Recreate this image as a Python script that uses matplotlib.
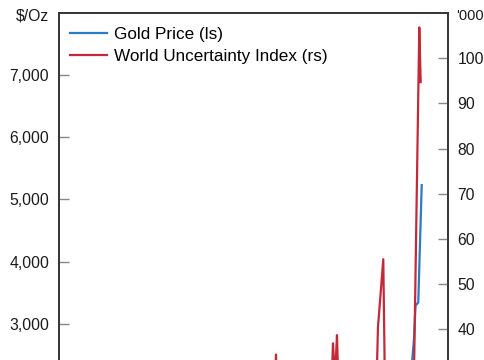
import matplotlib.pyplot as plt
from matplotlib.ticker import FuncFormatter

plt.rcParams['font.family'] = ['Liberation Sans', 'DejaVu Sans']

# Gold price, $/oz (left scale)
gold_year = [1973.0, 1980.0, 1985.0, 1990.0, 2000.0, 2005.0, 2008.0, 2011.7,
             2015.9, 2019.0, 2020.6, 2022.8, 2023.9, 2024.4, 2024.65, 2024.87,
             2025.27, 2025.77]
gold_price = [100, 610, 320, 385, 280, 445, 870, 1780,
              1070, 1300, 1950, 1650, 2050, 2420, 2750, 3290,
              3340, 5230]

# World Uncertainty Index, thousands (right scale)
wui_year = [1990.0, 1991.0, 1995.0, 2001.75, 2003.0, 2004.4, 2004.65, 2004.9,
            2008.75, 2012.66, 2012.91, 2013.2, 2013.49, 2013.74, 2016.5,
            2019.19, 2019.43, 2020.2, 2020.45, 2022.2, 2024.65, 2025.42, 2025.62]
wui_value = [14, 24, 13, 22, 27, 24, 34.4, 22,
             26, 26, 36.9, 29, 38.7, 25, 30,
             26, 40.4, 55.5, 26, 31, 30, 106.8, 94.7]

# only the ticks that show above the cut
left_ticks = [3000, 4000, 5000, 6000, 7000]
right_ticks = [40, 50, 60, 70, 80, 90, 100]

blue = '#2a7cc4'
red = '#c22a3a'
spine_col = '#333333'
tick_col = '#888888'

fig = plt.figure(figsize=(4.85, 3.6), dpi=100)
# the chart runs past the bottom edge of the picture
ax = fig.add_axes([59 / 485, 1 - 510 / 360, 389 / 485, 497 / 360])
ax2 = ax.twinx()

l1, = ax.plot(gold_year, gold_price, color=blue, lw=1.6, label='Gold Price (ls)')
l2, = ax2.plot(wui_year, wui_value, color=red, lw=1.6,
               label='World Uncertainty Index (rs)')

ax.set_xlim(1973.2, 2029.58)
ax.set_ylim(0, 8000)
ax2.set_ylim(0, 110)
ax.set_yticks(left_ticks)
ax2.set_yticks(right_ticks)
ax.yaxis.set_major_formatter(FuncFormatter(lambda v, p: f'{v:,.0f}'))
ax.set_xticks([])

for a in (ax, ax2):
    for s in a.spines.values():
        s.set_color(spine_col)
        s.set_linewidth(1.2)
    a.tick_params(axis='y', direction='in', length=7, width=1, color=tick_col,
                  labelsize=11.3, labelcolor='#1a1a1a', pad=7)

fig.text(49 / 485, 1 - 16 / 360, '$/Oz', ha='right', va='center',
         fontsize=11.3, color='#1a1a1a')
fig.text(456 / 485, 1 - 16 / 360, "'000", ha='left', va='center',
         fontsize=10.5, color='#1a1a1a')

ax2.legend(handles=[l1, l2], loc='upper left',
           bbox_to_anchor=(11 / 389, 1 - 14 / 497), frameon=False,
           fontsize=12.3, borderaxespad=0, borderpad=0, labelspacing=0.4,
           handlelength=2.15, handletextpad=0.4)

fig.savefig('out.png', dpi=100)
